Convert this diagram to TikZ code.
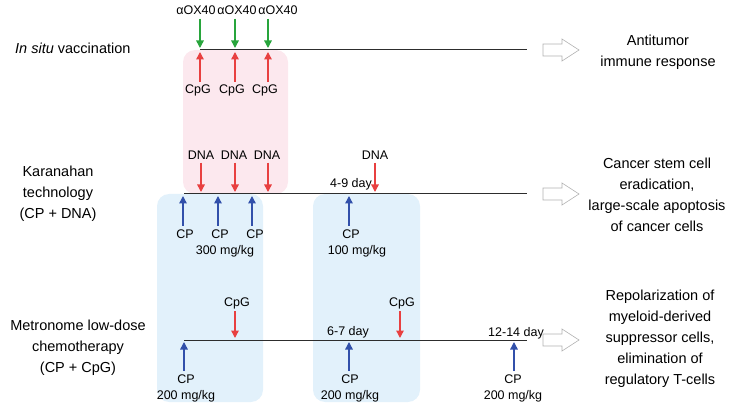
\documentclass[tikz,border=0pt]{standalone}
\usepackage{fontspec}
\setmainfont{Liberation Sans}
\usetikzlibrary{arrows.meta}
\definecolor{cgreen}{RGB}{40,165,60}
\definecolor{cred}{RGB}{232,64,64}
\definecolor{cblue}{RGB}{50,80,170}
\definecolor{cpink}{RGB}{252,232,238}
\definecolor{clblue}{RGB}{226,241,251}
\definecolor{cline}{RGB}{45,45,45}
\begin{document}
\begin{tikzpicture}[x=1pt,y=-1pt,
  lbl/.style={font=\fontsize{12.5}{14}\selectfont, inner sep=0.5pt},
  big/.style={font=\fontsize{14.5}{21}\selectfont, align=center, inner sep=0pt},
  arr/.style={line width=1.4pt, -{Triangle[length=7.5pt,width=7.5pt]}},
  garr/.style={arr, draw=cgreen, fill=cgreen},
  rarr/.style={arr, draw=cred, fill=cred},
  barr/.style={arr, draw=cblue, fill=cblue},
  tline/.style={draw=cline, line width=1pt},
  hollow/.style={draw=black!30, fill=white, line width=0.6pt},
  pinkbox/.style={fill=cpink, rounded corners=12pt},
  bluebox/.style={fill=clblue, rounded corners=12pt}]
\useasboundingbox (0,0) rectangle (736,406);
% background boxes
\fill[pinkbox] (183,50) rectangle (288,194);
\fill[bluebox] (157,194) rectangle (263,402);
\fill[bluebox] (313,194) rectangle (420,402);
% timelines
\coordinate (L1s) at (200,50); \coordinate (L1e) at (527,50);
\coordinate (L2s) at (184,194); \coordinate (L2e) at (527,194);
\coordinate (L3s) at (184,340); \coordinate (L3e) at (527,340);
\draw[tline] (L1s) -- (L1e);
\draw[tline] (L2s) -- (L2e);
\draw[tline] (L3s) -- (L3e);
% left labels
\node[big, anchor=west] (t1) at (15,48) {\textit{In situ} vaccination};
\node[big] (t2) at (58,194) {Karanahan\\technology\\(CP + DNA)};
\node[big] (t3) at (78,348) {Metronome low-dose\\chemotherapy\\(CP + CpG)};
% row 1
\foreach \x/\lx/\n in {200/196/a,235/237/b,268/278/c}{
  \node[lbl] (ox\n) at (\lx,10) {αOX40};
  \coordinate (oxe\n) at (\x,48);
  \draw[garr] (\x,19) -- (oxe\n);
}
\foreach \x/\lx/\n in {200/198/a,235/232/b,268/265/c}{
  \node[lbl] (cg\n) at (\lx,90) {CpG};
  \coordinate (cge\n) at (\x,52);
  \draw[rarr] (\x,82) -- (cge\n);
}
% row 2
\foreach \x/\lx/\n in {201/201/a,235/234/b,268/267/c}{
  \node[lbl] (dna\n) at (\lx,155) {DNA};
  \coordinate (dnae\n) at (\x,192);
  \draw[rarr] (\x,163) -- (dnae\n);
}
\foreach \x/\lx/\n in {183/185/a,218/220/b,252/255/c}{
  \node[lbl] (cp\n) at (\lx,234) {CP};
  \coordinate (cpe\n) at (\x,196);
  \draw[barr] (\x,226) -- (cpe\n);
}
\node[lbl] (d300) at (225,251) {300 mg/kg};
\node[lbl] (day49) at (351,184) {4-9 day};
\node[lbl] (dnad) at (375,155) {DNA};
\coordinate (dnade) at (375,192);
\draw[rarr] (375,163) -- (dnade);
\node[lbl] (cpd) at (351,234) {CP};
\coordinate (cpde) at (349,196);
\draw[barr] (349,226) -- (cpde);
\node[lbl] (d100) at (357,251) {100 mg/kg};
% row 3
\foreach \x/\lx/\n in {235/237/a,400/402/b}{
  \node[lbl] (cpg3\n) at (\lx,303) {CpG};
  \coordinate (cpg3e\n) at (\x,338);
  \draw[rarr] (\x,311) -- (cpg3e\n);
}
\foreach \x/\lx/\n in {184/186/a,349/350/b,514/513/c}{
  \node[lbl] (cp3\n) at (\lx,379) {CP};
  \node[lbl] (dd3\n) at (\lx,396) {200 mg/kg};
  \coordinate (cp3e\n) at (\x,342);
  \draw[barr] (\x,371) -- (cp3e\n);
}
\node[lbl] (day67) at (348,332) {6-7 day};
\node[lbl] (day1214) at (516,333) {12-14 day};
% hollow arrows
\foreach \y in {50,194,340}{
  \draw[hollow] (543,\y-6) -- (562,\y-6) -- (562,\y-11) -- (579,\y) -- (562,\y+11) -- (562,\y+6) -- (543,\y+6) -- cycle;
}
% right texts
\node[big] (r1) at (658,52) {Antitumor\\immune response};
\node[big] (r2) at (657,195) {Cancer stem cell\\eradication,\\large-scale apoptosis\\of cancer cells};
\node[big] (r3) at (660,339) {Repolarization of\\myeloid-derived\\suppressor cells,\\elimination of\\regulatory T-cells};
\end{tikzpicture}
\end{document}
